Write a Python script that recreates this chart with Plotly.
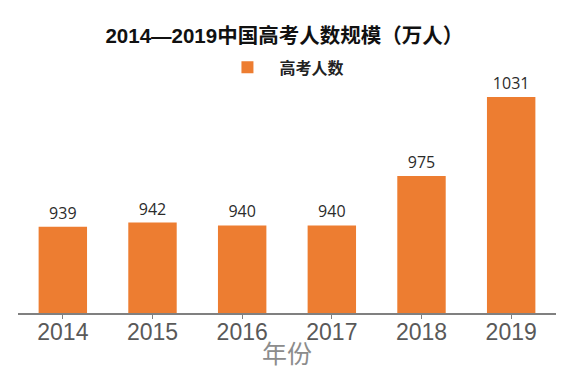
import plotly.graph_objects as go

years = ["2014", "2015", "2016", "2017", "2018", "2019"]
examinees = [939, 942, 940, 940, 975, 1031]
series_name = "高考人数"
title_text = "2014—2019中国高考人数规模（万人）"
x_title = "年份"

fig = go.Figure()
fig.add_trace(go.Bar(
    x=years, y=examinees, name="<b>" + series_name + "</b>",
    marker=dict(color="#ED7D31", line=dict(width=0)),
    text=examinees, textposition="outside",
    textfont=dict(size=16, color="#2b2b2b", family="Open Sans, Noto Sans CJK SC"),
    cliponaxis=False,
))

fig.update_layout(
    width=572, height=381,
    margin=dict(l=18, r=16, t=80, b=68, autoexpand=False),
    paper_bgcolor="white", plot_bgcolor="white",
    title=dict(text="<b>" + title_text + "</b>", x=0.497, xanchor="center", y=0.9055, yanchor="middle",
               font=dict(size=20.5, color="#111111", family="Liberation Sans, Noto Sans CJK SC")),
    showlegend=True,
    legend=dict(orientation="h", x=0.367, xanchor="left", y=1.054, yanchor="middle",
                font=dict(size=16, color="#222222", family="Noto Sans CJK SC"),
                itemsizing="constant", itemwidth=54),
    bargap=0.46,
    xaxis=dict(
        automargin=False,
        showline=True, linecolor="#808080", linewidth=1.5,
        ticks="outside", tickcolor="#808080", ticklen=4,
        ticklabelstandoff=-6,
        tickfont=dict(size=23, color="#595959", family="Liberation Sans, Noto Sans CJK SC"),
        showgrid=False,
    ),
    yaxis=dict(range=[878, 1043], visible=False, showgrid=False, automargin=False),
    annotations=[dict(text=x_title, xref="paper", yref="paper", x=0.5, y=-0.167,
                      xanchor="center", yanchor="middle", showarrow=False,
                      font=dict(size=25, color="#8c8c8c", family="Noto Sans CJK SC"))],
)
fig.write_html("out.html", config={"displayModeBar": False},
               post_script="document.body.style.margin='0px';")
